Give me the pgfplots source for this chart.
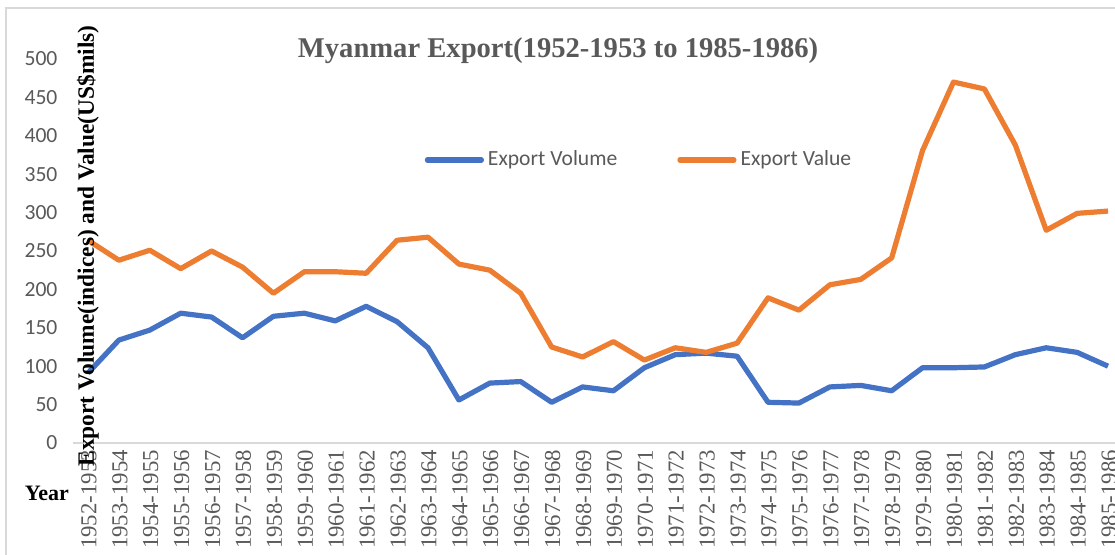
\documentclass[border=0pt]{standalone}
\usepackage{fontspec}
\setmainfont{Liberation Serif}
\newfontfamily\carlito{Carlito}
\usepackage{pgfplots}
\pgfplotsset{compat=1.18}
\definecolor{cblue}{HTML}{4472C4}
\definecolor{corange}{HTML}{ED7D31}
\definecolor{tgray}{HTML}{595959}
\definecolor{lgray}{HTML}{D9D9D9}
\begin{document}
\begin{tikzpicture}
\begin{axis}[
  scale only axis,
  width=525.5pt, height=192pt,
  xmin=-0.5, xmax=33.5,
  ymin=0, ymax=500,
  ytick={0,50,...,500},
  xtick={0,...,33},
  xticklabels={1952-1953,1953-1954,1954-1955,1955-1956,1956-1957,1957-1958,1958-1959,1959-1960,1960-1961,1961-1962,1962-1963,1963-1964,1964-1965,1965-1966,1966-1967,1967-1968,1968-1969,1969-1970,1970-1971,1971-1972,1972-1973,1973-1974,1974-1975,1975-1976,1976-1977,1977-1978,1978-1979,1979-1980,1980-1981,1981-1982,1982-1983,1983-1984,1984-1985,1985-1986},
  /pgf/number format/assume math mode=true,
  axis lines*=left,
  y axis line style={draw=none},
  x axis line style={draw=lgray, line width=1pt},
  major tick length=0pt,
  yticklabel style={font=\carlito\fontsize{10.8}{12}\selectfont, text=tgray, xshift=-4pt},
  xticklabel style={font=\fontsize{11.4}{12}\selectfont, text=tgray, rotate=90, anchor=east, yshift=-0.5pt},
  clip=false,
  legend style={draw=none, fill=none, at={(0.54,0.737)}, anchor=center,
    font=\carlito\fontsize{10.8}{12}\selectfont, text=tgray,
    /tikz/every even column/.append style={column sep=28pt}},
  legend columns=2,
  legend cell align=left,
  legend image code/.code={\draw[#1, line cap=round] (0pt,0pt) -- (27pt,0pt);},
]
\addplot[cblue, line width=2.6pt, line join=round] coordinates {
(0,91) (1,134) (2,147) (3,169) (4,164) (5,137) (6,165) (7,169) (8,159) (9,178)
(10,158) (11,124) (12,56) (13,78) (14,80) (15,53) (16,73) (17,68) (18,98) (19,115)
(20,117) (21,113) (22,53) (23,52) (24,73) (25,75) (26,68) (27,98) (28,98) (29,99)
(30,115) (31,124) (32,118) (33,100)};
\addlegendentry{Export Volume}
\addplot[corange, line width=2.6pt, line join=round] coordinates {
(0,264) (1,238) (2,251) (3,227) (4,250) (5,229) (6,195) (7,223) (8,223) (9,221)
(10,264) (11,268) (12,233) (13,225) (14,195) (15,125) (16,112) (17,132) (18,108) (19,124)
(20,118) (21,130) (22,189) (23,173) (24,206) (25,213) (26,241) (27,381) (28,470) (29,461)
(30,388) (31,277) (32,299) (33,302)};
\addlegendentry{Export Value}
\node[font=\bfseries\fontsize{14.3}{16}\selectfont, text=tgray] at (rel axis cs:0.462,1.023) {Myanmar Export(1952-1953 to 1985-1986)};
\node[font=\bfseries\fontsize{11.7}{13}\selectfont, rotate=90] at (rel axis cs:0.01475,0.5130) {Export Volume(indices) and Value(US\$mils)};
\node[font=\bfseries\fontsize{11}{13}\selectfont] at (rel axis cs:-0.0243,-0.130) {Year};
\coordinate (bbBL) at (rel axis cs:-0.06898,-0.29167);
\coordinate (bbTR) at (rel axis cs:0.99191,1.15365);
\coordinate (brBL) at (rel axis cs:-0.06327,-0.35);
\coordinate (brTR) at (rel axis cs:1.05,1.13281);
\end{axis}
\draw[lgray, line width=1pt] (brBL) rectangle (brTR);
\pgfresetboundingbox
\useasboundingbox (bbBL) rectangle (bbTR);
\end{tikzpicture}
\end{document}
